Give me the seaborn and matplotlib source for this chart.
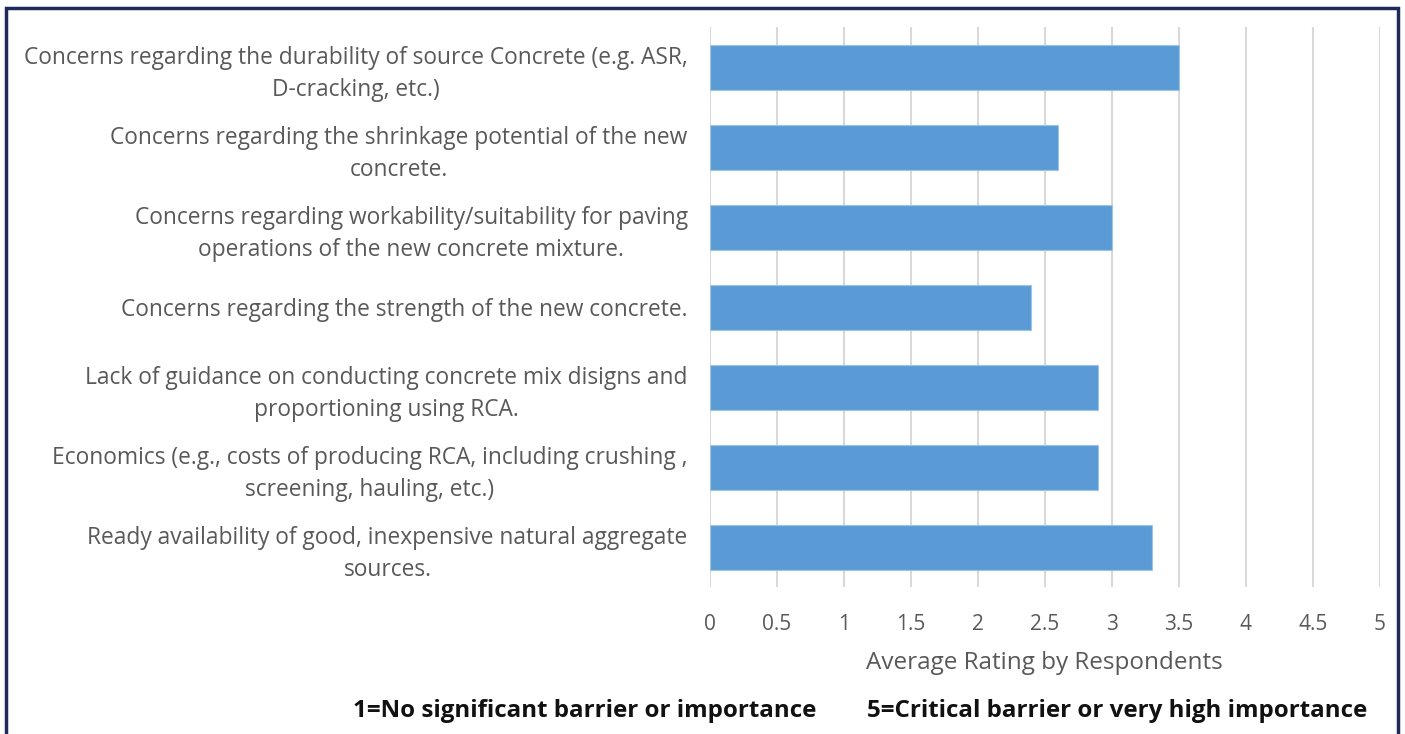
import matplotlib
matplotlib.use("Agg")
import matplotlib.pyplot as plt
import seaborn as sns
import pandas as pd
from matplotlib.patches import Rectangle

labels = [
    "Concerns regarding the durability of source Concrete (e.g. ASR,\nD-cracking, etc.)",
    "Concerns regarding the shrinkage potential of the new\nconcrete.",
    "Concerns regarding workability/suitability for paving\noperations of the new concrete mixture.",
    "Concerns regarding the strength of the new concrete.",
    "Lack of guidance on conducting concrete mix disigns and\nproportioning using RCA.",
    "Economics (e.g., costs of producing RCA, including crushing ,\nscreening, hauling, etc.)",
    "Ready availability of good, inexpensive natural aggregate\nsources.",
]
ratings = [3.5, 2.6, 3.0, 2.4, 2.9, 2.9, 3.3]
xticks = [0, 0.5, 1, 1.5, 2, 2.5, 3, 3.5, 4, 4.5, 5]

df = pd.DataFrame({"label": labels, "rating": ratings})

sns.set_style("white")
plt.rcParams["font.family"] = ["Open Sans", "DejaVu Sans"]

fig = plt.figure(figsize=(14.05, 7.34), dpi=100)
ax = fig.add_axes([0.5053, 0.2, 0.4767, 0.763])

sns.barplot(data=df, x="rating", y="label", color="#5b9bd5", saturation=1,
            width=0.56, edgecolor="#9dc3e6", linewidth=0.8, ax=ax, zorder=3)

ax.set_xlim(0, 5)
ax.set_xticks(xticks)
ax.set_xticklabels([f"{t:g}" for t in xticks])
ax.grid(axis="x", color="#d9d9d9", linewidth=1.5, zorder=0)
ax.set_axisbelow(True)
for s in ax.spines.values():
    s.set_visible(False)
ax.tick_params(axis="both", length=0, colors="#595959")
ax.tick_params(axis="x", pad=19, labelsize=15)
ax.tick_params(axis="y", pad=16, labelsize=16.4)
for t in ax.get_yticklabels():
    t.set_multialignment("center")
    t.set_linespacing(1.45)
ax.set_ylabel("")
ax.set_xlabel("Average Rating by Respondents", fontsize=17.5, color="#595959", labelpad=12)

fig.text(0.416, 0.032, "1=No significant barrier or importance", ha="center",
         va="center", fontsize=17.4, fontweight="bold", color="#111111")
fig.text(0.795, 0.032, "5=Critical barrier or very high importance", ha="center",
         va="center", fontsize=17.4, fontweight="bold", color="#111111")

fig.patches.append(Rectangle((0.004, -0.01), 0.991, 0.999, transform=fig.transFigure,
                             fill=False, edgecolor="#1f2a5c", linewidth=2.5))

fig.savefig("out.png", dpi=100)
